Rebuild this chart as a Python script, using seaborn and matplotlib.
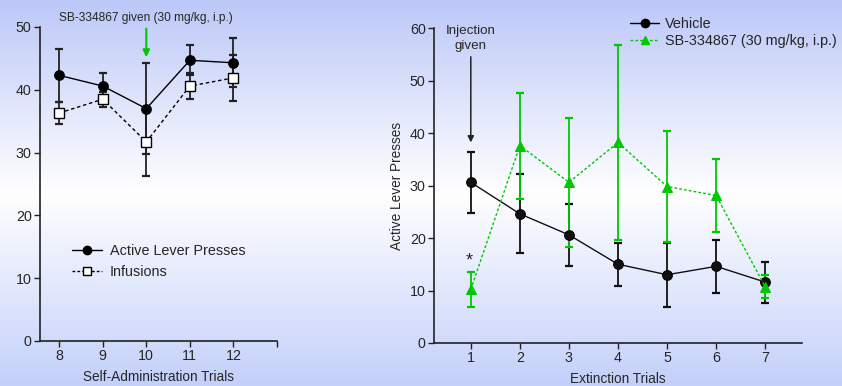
import numpy as np
import pandas as pd
import matplotlib
matplotlib.use("Agg")
import matplotlib.pyplot as plt
import seaborn as sns
from matplotlib.lines import Line2D

# ---------------- data ----------------
sa_trials = [8, 9, 10, 11, 12]
alp_mean = [42.3, 40.6, 37.0, 44.7, 44.3]
alp_err = [4.2, 2.1, 7.2, 2.4, 3.9]
inf_mean = [36.3, 38.5, 31.7, 40.6, 41.9]
inf_err = [1.8, 1.2, 5.4, 2.0, 3.7]

ext_trials = [1, 2, 3, 4, 5, 6, 7]
veh_mean = [30.6, 24.6, 20.6, 15.0, 13.0, 14.6, 11.6]
veh_err = [5.8, 7.5, 5.9, 4.1, 6.1, 5.1, 3.9]
sb_mean = [10.2, 37.6, 30.6, 38.2, 29.8, 28.1, 10.7]
sb_err = [3.4, 10.1, 12.3, 18.5, 10.5, 7.0, 2.2]

left_xticklabels = ["8", "9", "10", "11", "12", ""]

sns.set_theme(style="ticks")
plt.rcParams["font.family"] = ["Liberation Sans", "DejaVu Sans"]

W, H = 842, 386
fig = plt.figure(figsize=(W / 100, H / 100), dpi=100)

# gradient background
bg = fig.add_axes([0, 0, 1, 1], zorder=-10)
bg.axis("off")
top = np.array([188, 200, 248]) / 255
mid = np.array([255, 255, 255]) / 255
bot = np.array([196, 208, 250]) / 255
t = np.linspace(0, 1, 400)[:, None]
grad = np.where(t < 0.5, top + (mid - top) * (t / 0.5), mid + (bot - mid) * ((t - 0.5) / 0.5))
bg.imshow(grad[:, None, :].repeat(2, axis=1), aspect="auto", extent=[0, 1, 0, 1])
bg.set_xlim(0, 1); bg.set_ylim(0, 1)

GREEN = "#00c800"
TICK_FS = 10.3
LAB_FS = 9.8

# ---------------- left panel ----------------
ax1 = fig.add_axes([40 / W, 1 - 341 / H, (277 - 40) / W, (341 - 27) / H])
ax1.patch.set_alpha(0)
dfl = pd.DataFrame({"trial": sa_trials, "alp": alp_mean, "inf": inf_mean})
ax1.errorbar(sa_trials, alp_mean, yerr=alp_err, fmt="none", ecolor="#222222",
             elinewidth=1.3, capsize=3, capthick=1.6, zorder=2)
ax1.errorbar(sa_trials, inf_mean, yerr=inf_err, fmt="none", ecolor="#222222",
             elinewidth=1.3, capsize=3, capthick=1.6, zorder=2)
sns.lineplot(data=dfl, x="trial", y="alp", ax=ax1, color="black", lw=1,
             marker="o", markersize=7, markeredgecolor="black", zorder=3)
sns.lineplot(data=dfl, x="trial", y="inf", ax=ax1, color="black", lw=1,
             linestyle=(0, (2.5, 2)), marker="s", markersize=6.5,
             markerfacecolor="white", markeredgecolor="black", markeredgewidth=1, zorder=3)
ax1.set_xlim(7.56, 13.0)
ax1.set_ylim(0, 50)
ax1.set_xticks([8, 9, 10, 11, 12, 13])
ax1.set_xticklabels(left_xticklabels)
ax1.set_yticks([0, 10, 20, 30, 40, 50])
ax1.set_xlabel("Self-Administration Trials", fontsize=LAB_FS, labelpad=5)
ax1.set_ylabel("")
ax1.annotate("SB-334867 given (30 mg/kg, i.p.)", xy=(10, 45.2), xytext=(10, 50.5),
             ha="center", va="bottom", fontsize=8.6, annotation_clip=False,
             arrowprops=dict(arrowstyle="-|>", color=GREEN, lw=1.5, mutation_scale=10,
                             shrinkA=1, shrinkB=0))
h1 = [Line2D([], [], color="black", lw=1, marker="o", markersize=6),
      Line2D([], [], color="black", lw=1, linestyle=(0, (2, 1.5)), marker="s", markersize=5.5,
             markerfacecolor="white")]
ax1.legend(h1, ["Active Lever Presses", "Infusions"], loc="upper left",
           bbox_to_anchor=(0.135, 0.31), frameon=False, fontsize=10.4,
           handlelength=2.1, handletextpad=0.5, labelspacing=0.5, borderaxespad=0,
           borderpad=0)

# ---------------- right panel ----------------
ax2 = fig.add_axes([434 / W, 1 - 343 / H, (802 - 434) / W, (343 - 28) / H])
ax2.patch.set_alpha(0)
dfr = pd.DataFrame({"trial": ext_trials, "veh": veh_mean, "sb": sb_mean})
ax2.errorbar(ext_trials, veh_mean, yerr=veh_err, fmt="none", ecolor="#111111",
             elinewidth=1.3, capsize=2.8, capthick=1.6, zorder=2)
ax2.errorbar(ext_trials, sb_mean, yerr=sb_err, fmt="none", ecolor=GREEN,
             elinewidth=1.3, capsize=2.8, capthick=1.6, zorder=2)
sns.lineplot(data=dfr, x="trial", y="veh", ax=ax2, color="#111111", lw=1,
             marker="o", markersize=7, markeredgecolor="black", zorder=3)
sns.lineplot(data=dfr, x="trial", y="sb", ax=ax2, color=GREEN, lw=1,
             linestyle=(0, (2, 1.5)), marker="^", markersize=7,
             markeredgecolor=GREEN, zorder=3)
ax2.set_xlim(0.25, 7.75)
ax2.set_ylim(0, 60)
ax2.set_xticks(ext_trials)
ax2.set_yticks([0, 10, 20, 30, 40, 50, 60])
ax2.set_xlabel("Extinction Trials", fontsize=LAB_FS, labelpad=5)
ax2.set_ylabel("Active Lever Presses", fontsize=LAB_FS, labelpad=4)
ax2.annotate("Injection\ngiven", xy=(1, 38.2), xytext=(1, 55.4),
             ha="center", va="bottom", fontsize=9.6, linespacing=1.4,
             annotation_clip=False,
             arrowprops=dict(arrowstyle="-|>", color="#222222", lw=1.1, mutation_scale=9,
                             shrinkA=1, shrinkB=0))
ax2.text(0.97, 15.7, "*", ha="center", va="center", fontsize=13)
h2 = [Line2D([], [], color="black", lw=1, marker="o", markersize=6),
      Line2D([], [], color=GREEN, lw=1, linestyle=(0, (2, 1.5)), marker="^", markersize=6)]
ax2.legend(h2, ["Vehicle", "SB-334867 (30 mg/kg, i.p.)"], loc="upper left",
           bbox_to_anchor=(0.533, 1.035), frameon=False, fontsize=10.4,
           handlelength=2.0, handletextpad=0.4, labelspacing=0.22, borderaxespad=0,
           borderpad=0)

for ax in (ax1, ax2):
    sns.despine(ax=ax)
    for s in ("left", "bottom"):
        ax.spines[s].set_color("#222222")
        ax.spines[s].set_linewidth(1.2)
    ax.tick_params(axis="both", direction="out", length=4, width=1, color="#222222",
                   labelsize=TICK_FS, pad=2)

fig.savefig("out.png", dpi=100)
